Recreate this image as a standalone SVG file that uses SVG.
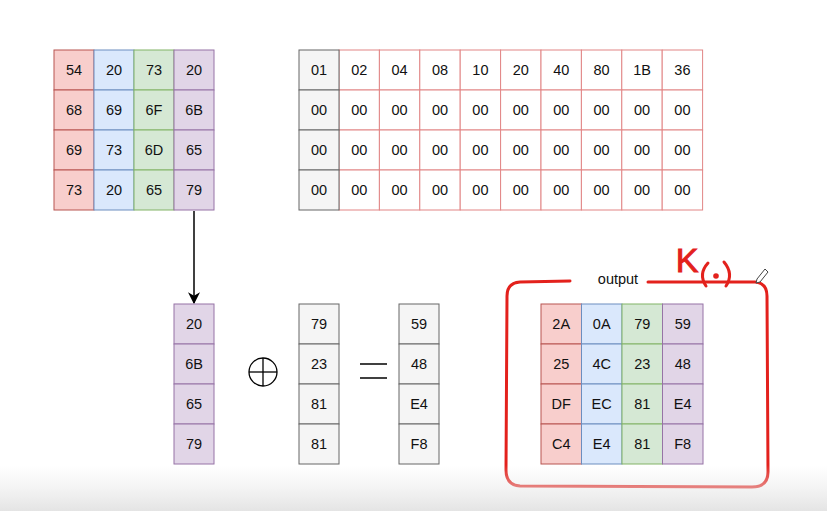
<svg xmlns="http://www.w3.org/2000/svg" width="827" height="511" viewBox="0 0 827 511">
<defs>
<style>
text{font-family:"Liberation Sans",Arial,sans-serif;font-size:14.5px;fill:#111;text-anchor:middle;dominant-baseline:central}
.r{fill:#f8cecc;stroke:#b85450}
.b{fill:#dae8fc;stroke:#6c8ebf}
.g{fill:#d5e8d4;stroke:#82b366}
.p{fill:#e1d5e7;stroke:#9673a6}
.k{fill:#f5f5f5;stroke:#666}
.w{fill:#fff;stroke:#e28585}
.hand{fill:none;stroke:#e3211c;stroke-width:3;stroke-linecap:round;stroke-linejoin:round}
</style>
<marker id="ah" viewBox="0 0 10 10" refX="9" refY="5" markerWidth="8" markerHeight="8" orient="auto">
<path d="M0,0 L10,5 L0,10 L3,5 Z" fill="#000"/>
</marker>
<linearGradient id="fade" x1="0" y1="0" x2="0" y2="1">
<stop offset="0" stop-color="#ececec" stop-opacity="0"/>
<stop offset="1" stop-color="#e4e4e4" stop-opacity="1"/>
</linearGradient>
</defs>
<rect width="827" height="511" fill="#fff"/>

<g id="state">
<rect class="r" x="54" y="50" width="40" height="40"/><text x="74" y="70">54</text>
<rect class="r" x="54" y="90" width="40" height="40"/><text x="74" y="110">68</text>
<rect class="r" x="54" y="130" width="40" height="40"/><text x="74" y="150">69</text>
<rect class="r" x="54" y="170" width="40" height="40"/><text x="74" y="190">73</text>
<rect class="b" x="94" y="50" width="40" height="40"/><text x="114" y="70">20</text>
<rect class="b" x="94" y="90" width="40" height="40"/><text x="114" y="110">69</text>
<rect class="b" x="94" y="130" width="40" height="40"/><text x="114" y="150">73</text>
<rect class="b" x="94" y="170" width="40" height="40"/><text x="114" y="190">20</text>
<rect class="g" x="134" y="50" width="40" height="40"/><text x="154" y="70">73</text>
<rect class="g" x="134" y="90" width="40" height="40"/><text x="154" y="110">6F</text>
<rect class="g" x="134" y="130" width="40" height="40"/><text x="154" y="150">6D</text>
<rect class="g" x="134" y="170" width="40" height="40"/><text x="154" y="190">65</text>
<rect class="p" x="174" y="50" width="40" height="40"/><text x="194" y="70">20</text>
<rect class="p" x="174" y="90" width="40" height="40"/><text x="194" y="110">6B</text>
<rect class="p" x="174" y="130" width="40" height="40"/><text x="194" y="150">65</text>
<rect class="p" x="174" y="170" width="40" height="40"/><text x="194" y="190">79</text>
</g>

<g id="rcon">
<rect class="w" x="339" y="50" width="40.4" height="40"/><text x="359.2" y="70">02</text>
<rect class="w" x="379.4" y="50" width="40.4" height="40"/><text x="399.6" y="70">04</text>
<rect class="w" x="419.8" y="50" width="40.4" height="40"/><text x="440" y="70">08</text>
<rect class="w" x="460.2" y="50" width="40.4" height="40"/><text x="480.4" y="70">10</text>
<rect class="w" x="500.6" y="50" width="40.4" height="40"/><text x="520.8" y="70">20</text>
<rect class="w" x="541" y="50" width="40.4" height="40"/><text x="561.2" y="70">40</text>
<rect class="w" x="581.4" y="50" width="40.4" height="40"/><text x="601.6" y="70">80</text>
<rect class="w" x="621.8" y="50" width="40.4" height="40"/><text x="642" y="70">1B</text>
<rect class="w" x="662.2" y="50" width="40.4" height="40"/><text x="682.4" y="70">36</text>
<g>
<rect class="w" x="339" y="90" width="40.4" height="40"/><text x="359.2" y="110">00</text>
<rect class="w" x="379.4" y="90" width="40.4" height="40"/><text x="399.6" y="110">00</text>
<rect class="w" x="419.8" y="90" width="40.4" height="40"/><text x="440" y="110">00</text>
<rect class="w" x="460.2" y="90" width="40.4" height="40"/><text x="480.4" y="110">00</text>
<rect class="w" x="500.6" y="90" width="40.4" height="40"/><text x="520.8" y="110">00</text>
<rect class="w" x="541" y="90" width="40.4" height="40"/><text x="561.2" y="110">00</text>
<rect class="w" x="581.4" y="90" width="40.4" height="40"/><text x="601.6" y="110">00</text>
<rect class="w" x="621.8" y="90" width="40.4" height="40"/><text x="642" y="110">00</text>
<rect class="w" x="662.2" y="90" width="40.4" height="40"/><text x="682.4" y="110">00</text>
</g>
<g>
<rect class="w" x="339" y="130" width="40.4" height="40"/><text x="359.2" y="150">00</text>
<rect class="w" x="379.4" y="130" width="40.4" height="40"/><text x="399.6" y="150">00</text>
<rect class="w" x="419.8" y="130" width="40.4" height="40"/><text x="440" y="150">00</text>
<rect class="w" x="460.2" y="130" width="40.4" height="40"/><text x="480.4" y="150">00</text>
<rect class="w" x="500.6" y="130" width="40.4" height="40"/><text x="520.8" y="150">00</text>
<rect class="w" x="541" y="130" width="40.4" height="40"/><text x="561.2" y="150">00</text>
<rect class="w" x="581.4" y="130" width="40.4" height="40"/><text x="601.6" y="150">00</text>
<rect class="w" x="621.8" y="130" width="40.4" height="40"/><text x="642" y="150">00</text>
<rect class="w" x="662.2" y="130" width="40.4" height="40"/><text x="682.4" y="150">00</text>
</g>
<g>
<rect class="w" x="339" y="170" width="40.4" height="40"/><text x="359.2" y="190">00</text>
<rect class="w" x="379.4" y="170" width="40.4" height="40"/><text x="399.6" y="190">00</text>
<rect class="w" x="419.8" y="170" width="40.4" height="40"/><text x="440" y="190">00</text>
<rect class="w" x="460.2" y="170" width="40.4" height="40"/><text x="480.4" y="190">00</text>
<rect class="w" x="500.6" y="170" width="40.4" height="40"/><text x="520.8" y="190">00</text>
<rect class="w" x="541" y="170" width="40.4" height="40"/><text x="561.2" y="190">00</text>
<rect class="w" x="581.4" y="170" width="40.4" height="40"/><text x="601.6" y="190">00</text>
<rect class="w" x="621.8" y="170" width="40.4" height="40"/><text x="642" y="190">00</text>
<rect class="w" x="662.2" y="170" width="40.4" height="40"/><text x="682.4" y="190">00</text>
</g>
<rect class="k" x="299" y="50" width="40" height="40"/><text x="319" y="70">01</text>
<rect class="k" x="299" y="90" width="40" height="40"/><text x="319" y="110">00</text>
<rect class="k" x="299" y="130" width="40" height="40"/><text x="319" y="150">00</text>
<rect class="k" x="299" y="170" width="40" height="40"/><text x="319" y="190">00</text>
</g>

<g id="connectors">
<line x1="194" y1="211" x2="194" y2="303" stroke="#000" stroke-width="1.5" marker-end="url(#ah)"/>
</g>

<g id="word">
<rect class="p" x="174" y="304" width="40" height="40"/><text x="194" y="324">20</text>
<rect class="p" x="174" y="344" width="40" height="40"/><text x="194" y="364">6B</text>
<rect class="p" x="174" y="384" width="40" height="40"/><text x="194" y="404">65</text>
<rect class="p" x="174" y="424" width="40" height="40"/><text x="194" y="444">79</text>
</g>

<g id="xor">
<circle cx="263" cy="372" r="14" fill="none" stroke="#000" stroke-width="1.3"/>
<line x1="249" y1="372" x2="277" y2="372" stroke="#000" stroke-width="1.3"/>
<line x1="263" y1="358" x2="263" y2="386" stroke="#000" stroke-width="1.3"/>
</g>

<g id="transformed">
<rect class="k" x="299" y="304" width="40" height="40"/><text x="319" y="324">79</text>
<rect class="k" x="299" y="344" width="40" height="40"/><text x="319" y="364">23</text>
<rect class="k" x="299" y="384" width="40" height="40"/><text x="319" y="404">81</text>
<rect class="k" x="299" y="424" width="40" height="40"/><text x="319" y="444">81</text>
</g>

<g id="equals">
<line x1="360" y1="364" x2="387" y2="364" stroke="#000" stroke-width="1.5"/>
<line x1="360" y1="378" x2="387" y2="378" stroke="#000" stroke-width="1.5"/>
</g>

<g id="result">
<rect class="k" x="399" y="304" width="40" height="40"/><text x="419" y="324">59</text>
<rect class="k" x="399" y="344" width="40" height="40"/><text x="419" y="364">48</text>
<rect class="k" x="399" y="384" width="40" height="40"/><text x="419" y="404">E4</text>
<rect class="k" x="399" y="424" width="40" height="40"/><text x="419" y="444">F8</text>
</g>

<g id="output">
<path class="hand" d="M570,281 L520,282 Q507,283 507,296 L506,470 Q506,485 520,486 L752,487 Q768,487 768,472 L767,296 Q767,283 755,282 L648,282"/>
<text x="618" y="279">output</text>
<text x="687" y="260" style="font-family:'Liberation Sans',sans-serif;font-size:34px;fill:#e3211c;stroke:#e3211c;stroke-width:1">K</text>
<path class="hand" d="M708,263 Q698,274 706,286 M724,262 Q734,274 726,286" stroke-width="2.5"/>
<circle cx="716" cy="276" r="2.8" fill="#e3211c"/>
<path d="M757,279 L765,269 L768,272 L760,282 L756,283 Z" fill="#fff" stroke="#444" stroke-width="1"/>
<rect class="r" x="541" y="304" width="40.5" height="40"/><text x="561.2" y="324">2A</text>
<rect class="r" x="541" y="344" width="40.5" height="40"/><text x="561.2" y="364">25</text>
<rect class="r" x="541" y="384" width="40.5" height="40"/><text x="561.2" y="404">DF</text>
<rect class="r" x="541" y="424" width="40.5" height="40"/><text x="561.2" y="444">C4</text>
<rect class="b" x="581.5" y="304" width="40.5" height="40"/><text x="601.7" y="324">0A</text>
<rect class="b" x="581.5" y="344" width="40.5" height="40"/><text x="601.7" y="364">4C</text>
<rect class="b" x="581.5" y="384" width="40.5" height="40"/><text x="601.7" y="404">EC</text>
<rect class="b" x="581.5" y="424" width="40.5" height="40"/><text x="601.7" y="444">E4</text>
<rect class="g" x="622" y="304" width="40.5" height="40"/><text x="642.2" y="324">79</text>
<rect class="g" x="622" y="344" width="40.5" height="40"/><text x="642.2" y="364">23</text>
<rect class="g" x="622" y="384" width="40.5" height="40"/><text x="642.2" y="404">81</text>
<rect class="g" x="622" y="424" width="40.5" height="40"/><text x="642.2" y="444">81</text>
<rect class="p" x="662.5" y="304" width="40.5" height="40"/><text x="682.7" y="324">59</text>
<rect class="p" x="662.5" y="344" width="40.5" height="40"/><text x="682.7" y="364">48</text>
<rect class="p" x="662.5" y="384" width="40.5" height="40"/><text x="682.7" y="404">E4</text>
<rect class="p" x="662.5" y="424" width="40.5" height="40"/><text x="682.7" y="444">F8</text>
</g>

<rect x="0" y="465" width="827" height="46" fill="url(#fade)" pointer-events="none"/>
</svg>
